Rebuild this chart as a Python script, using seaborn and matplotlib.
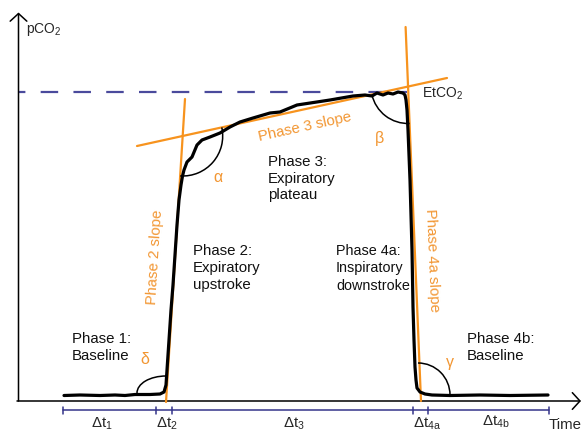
import numpy as np
import matplotlib
matplotlib.use("Agg")
import matplotlib.pyplot as plt
from matplotlib.patches import Arc
import seaborn as sns

# Capnogram trace: time axis position and pCO2 level (canvas units)
time = [64, 80, 100, 115, 125, 135, 150, 160, 164, 166, 167, 169, 171, 173, 175,
        177, 179, 181, 182.5, 184, 187, 192, 197, 202, 210, 220, 230, 240, 253,
        270, 280, 297, 330, 353, 365, 372, 377, 383, 388, 393, 398, 403, 405,
        406, 407, 408, 410, 412, 413, 414, 415, 416, 417, 420, 425, 432, 450,
        480, 510, 548]
pco2 = [38.5, 39, 38.5, 39, 38.5, 39.5, 39.5, 40, 42, 49, 64, 94, 124, 149,
        179, 209, 234, 249, 258, 264, 272, 277, 289, 294, 297, 301, 307, 312,
        316, 321, 322, 329, 334, 338, 339, 338, 341, 339, 341, 340, 342, 341,
        339, 334, 324, 304, 254, 184, 127, 94, 67, 54, 46, 42, 40, 39, 38.5,
        39, 38.5, 39]

# Slope lines (end points of each fitted tangent)
phase2_slope_x, phase2_slope_y = [185, 166], [335, 32]
phase3_slope_x, phase3_slope_y = [137, 447], [288, 356]
phase4a_slope_x, phase4a_slope_y = [405.6, 421], [407, 33]

# End-tidal CO2 level
etco2_level = 342

# Phase interval boundaries on the time axis
interval_edges = [63, 156, 172, 413, 428, 549]
interval_labels = ["1", "2", "3", "4a", "4b"]
interval_label_x = [91, 156, 283, 413, 481.5]
interval_label_y = [6, 6, 6, 6, 8]

sns.set_theme(style="white")
plt.rcParams["font.family"] = ["Liberation Sans", "DejaVu Sans"]
plt.rcParams["mathtext.fontset"] = "custom"
plt.rcParams["mathtext.rm"] = "Liberation Sans"
plt.rcParams["lines.scale_dashes"] = False

ORANGE = "#f7931e"
ORANGE_TXT = "#f29632"
NAVY = "#34348a"
DASH = "#4a4a9c"
FS = 10.8

fig = plt.figure(figsize=(5.85, 4.34), dpi=100)
ax = fig.add_axes([0, 0, 1, 1])
ax.set_xlim(0, 585)
ax.set_ylim(0, 434)
ax.axis("off")

# Axes with arrow heads
arrow = dict(arrowstyle="->,head_length=0.55,head_width=0.6", lw=1.1,
             color="black", shrinkA=0, shrinkB=0, mutation_scale=10)
ax.annotate("", xy=(581, 33), xytext=(17, 33), arrowprops=arrow)
ax.annotate("", xy=(18.5, 421.5), xytext=(18.5, 33), arrowprops=arrow)

# EtCO2 dashed reference
ax.plot([19, 407], [etco2_level, etco2_level], color=DASH, lw=1.6,
        linestyle=(8, (12.6, 11.0)), dash_capstyle="butt")

# Tangent lines
for xs, ys in [(phase2_slope_x, phase2_slope_y),
               (phase3_slope_x, phase3_slope_y),
               (phase4a_slope_x, phase4a_slope_y)]:
    ax.plot(xs, ys, color=ORANGE, lw=1.6, zorder=3)

# The trace
sns.lineplot(x=time, y=pco2, sort=False, estimator=None, color="black",
             lw=2.3, ax=ax, zorder=4)

# Angle arcs
arc_kw = dict(color="black", lw=1.1, zorder=4)
ax.add_patch(Arc((182.7, 298), 80, 80, theta1=-93.6, theta2=12.4, **arc_kw))
ax.add_patch(Arc((408, 347.5), 74, 74, theta1=192.4, theta2=272.4, **arc_kw))
ax.add_patch(Arc((418, 39), 64, 64, theta1=0, theta2=90, **arc_kw))
ax.add_patch(Arc((166, 41), 58, 34, theta1=90, theta2=180, **arc_kw))

# Greek angle labels
for sym, gx, gy in [("α", 217.5, 257), ("β", 379, 296),
                    ("γ", 450, 72), ("δ", 145, 74)]:
    ax.text(gx, gy, sym, color=ORANGE_TXT, fontsize=11.5, ha="center", va="center")

# Phase descriptions
phase_text = [
    ("Phase 1:\nBaseline", 72, 102, FS),
    ("Phase 2:\nExpiratory\nupstroke", 193, 190, FS),
    ("Phase 3:\nExpiratory\nplateau", 268, 279, FS),
    ("Phase 4a:\nInspiratory\ndownstroke", 336, 190, 10.4),
    ("Phase 4b:\nBaseline", 467, 102, FS),
]
for txt, tx, ty, fs in phase_text:
    ax.text(tx, ty, txt, fontsize=fs, color="#111111", ha="left", va="top",
            linespacing=1.25 * FS / fs)

# Slope labels
ax.text(155, 177, "Phase 2 slope", color=ORANGE_TXT, fontsize=FS,
        rotation=86.4, ha="center", va="center", rotation_mode="anchor")
ax.text(305, 307, "Phase 3 slope", color=ORANGE_TXT, fontsize=FS,
        rotation=12.4, ha="center", va="center", rotation_mode="anchor")
ax.text(432, 174, "Phase 4a slope", color=ORANGE_TXT, fontsize=FS,
        rotation=-87.6, ha="center", va="center", rotation_mode="anchor")

# Axis titles
ax.text(26, 400.5, r"pCO$\mathregular{_2}$", fontsize=10, ha="left", va="baseline")
ax.text(422, 336.7, r"EtCO$\mathregular{_2}$", fontsize=10, ha="left", va="baseline")
ax.text(549, 5, "Time", fontsize=FS, ha="left", va="baseline")

# Interval bar
ax.plot([interval_edges[0], interval_edges[-1]], [24, 24], color=NAVY, lw=1.1)
for e in interval_edges:
    ax.plot([e, e], [20.5, 27.5], color=NAVY, lw=1.1)
for lab, lx, ly in zip(interval_labels, interval_label_x, interval_label_y):
    ax.text(lx, ly, "Δt" + r"$\mathregular{_{" + lab + "}}$", fontsize=FS,
            ha="left", va="baseline")

fig.savefig("out.png", dpi=100)
